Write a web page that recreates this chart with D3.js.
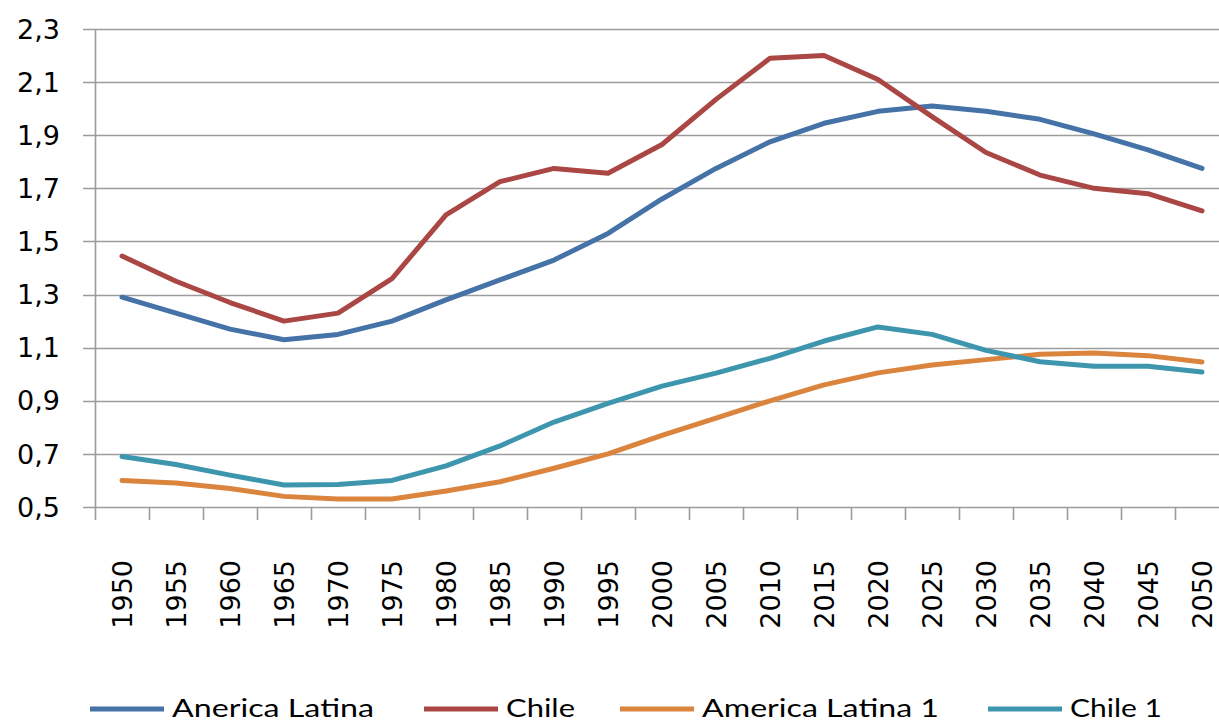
<!DOCTYPE html>
<html>
<head>
<meta charset="utf-8">
<script src="https://cdn.jsdelivr.net/npm/d3@7"></script>
<style>
  body { margin: 0; background: #fff; }
  svg { display: block; }
</style>
</head>
<body>
<svg id="chart" width="1219" height="723"></svg>
<script>
// datos
const years = ['1950','1955','1960','1965','1970','1975','1980','1985','1990','1995','2000',
               '2005','2010','2015','2020','2025','2030','2035','2040','2045','2050'];

const americaLatina = [1.29, 1.23, 1.17, 1.13, 1.15, 1.20, 1.28, 1.355, 1.43, 1.53, 1.66,
                       1.775, 1.875, 1.945, 1.99, 2.01, 1.99, 1.96, 1.905, 1.845, 1.775];
const chile = [1.445, 1.35, 1.27, 1.20, 1.23, 1.36, 1.60, 1.725, 1.775, 1.757, 1.865,
               2.035, 2.19, 2.20, 2.11, 1.97, 1.835, 1.75, 1.70, 1.68, 1.615];
const americaLatina1 = [0.60, 0.59, 0.57, 0.54, 0.53, 0.53, 0.56, 0.595, 0.646, 0.70, 0.77,
                        0.835, 0.90, 0.96, 1.005, 1.035, 1.055, 1.075, 1.08, 1.07, 1.046];
const chile1 = [0.69, 0.66, 0.62, 0.583, 0.585, 0.60, 0.655, 0.73, 0.82, 0.89, 0.955,
                1.004, 1.06, 1.125, 1.178, 1.15, 1.09, 1.047, 1.03, 1.03, 1.008];

const seriesNames = ['Anerica Latina', 'Chile', 'America Latina 1', 'Chile 1'];
const seriesValues = [americaLatina, chile, americaLatina1, chile1];
const seriesColors = ['#4572A7', '#AA4643', '#DB843D', '#3D96AE'];

const yTicks = [0.5, 0.7, 0.9, 1.1, 1.3, 1.5, 1.7, 1.9, 2.1, 2.3];

// dimensiones
const svg = d3.select('#chart');
const plotLeft = 95, plotTop = 29, plotBottom = 507;
const step = 54;

const x = d3.scaleBand()
    .domain(years)
    .range([plotLeft, plotLeft + step * years.length])
    .paddingInner(0).paddingOuter(0);

const y = d3.scaleLinear()
    .domain([0.5, 2.3])
    .range([plotBottom, plotTop]);

const gridColor = '#9c9c9c';
const labelFont = '"DejaVu Sans", Verdana, sans-serif';

// lineas de grilla horizontales
svg.append('g')
    .selectAll('line')
    .data(yTicks)
    .enter().append('line')
    .attr('x1', plotLeft - 12)
    .attr('x2', 1219)
    .attr('y1', d => Math.round(y(d)) + 0.5)
    .attr('y2', d => Math.round(y(d)) + 0.5)
    .attr('stroke', gridColor)
    .attr('stroke-width', 1.6);

// eje vertical
svg.append('line')
    .attr('x1', plotLeft + 0.5).attr('x2', plotLeft + 0.5)
    .attr('y1', plotTop).attr('y2', plotBottom + 13)
    .attr('stroke', gridColor)
    .attr('stroke-width', 1.6);

// marcas del eje x (entre categorias)
svg.append('g')
    .selectAll('line')
    .data(years.slice(1))
    .enter().append('line')
    .attr('x1', d => Math.round(x(d)) + 0.5)
    .attr('x2', d => Math.round(x(d)) + 0.5)
    .attr('y1', plotBottom)
    .attr('y2', plotBottom + 13)
    .attr('stroke', gridColor)
    .attr('stroke-width', 1.6);

// etiquetas eje y
svg.append('g')
    .selectAll('text')
    .data(yTicks)
    .enter().append('text')
    .attr('x', 60)
    .attr('y', d => y(d))
    .attr('dy', '0.36em')
    .attr('text-anchor', 'end')
    .attr('font-family', labelFont)
    .attr('font-size', 27)
    .attr('fill', '#000')
    .text(d => d.toFixed(1).replace('.', ','));

// etiquetas eje x (rotadas)
svg.append('g')
    .selectAll('text')
    .data(years)
    .enter().append('text')
    .attr('transform', d => `translate(${x(d) + x.bandwidth() / 2},560) rotate(-90)`)
    .attr('dy', '0.36em')
    .attr('text-anchor', 'end')
    .attr('font-family', labelFont)
    .attr('font-size', 27)
    .attr('fill', '#000')
    .text(d => d);

// lineas de series
const line = d3.line()
    .x((d, i) => x(years[i]) + x.bandwidth() / 2)
    .y(d => y(d));

svg.append('g')
    .selectAll('path')
    .data(seriesValues)
    .enter().append('path')
    .attr('d', d => line(d))
    .attr('fill', 'none')
    .attr('stroke', (d, i) => seriesColors[i])
    .attr('stroke-width', 5)
    .attr('stroke-linejoin', 'round')
    .attr('stroke-linecap', 'round');

// leyenda
const legendX = [90, 424, 620, 988];
const legendTextW = [202, 69, 237, 92];
const legend = svg.append('g')
    .selectAll('g')
    .data(seriesNames)
    .enter().append('g')
    .attr('transform', (d, i) => `translate(${legendX[i]},709)`);

legend.append('line')
    .attr('x1', 0).attr('x2', 74)
    .attr('y1', 0).attr('y2', 0)
    .attr('stroke', (d, i) => seriesColors[i])
    .attr('stroke-width', 5);

legend.append('text')
    .attr('x', 82)
    .attr('y', 8)
    .attr('font-family', 'Lato, "Open Sans", sans-serif')
    .attr('font-size', 25)
    .attr('textLength', (d, i) => legendTextW[i])
    .attr('lengthAdjust', 'spacingAndGlyphs')
    .attr('fill', '#000')
    .text(d => d);
</script>
</body>
</html>
